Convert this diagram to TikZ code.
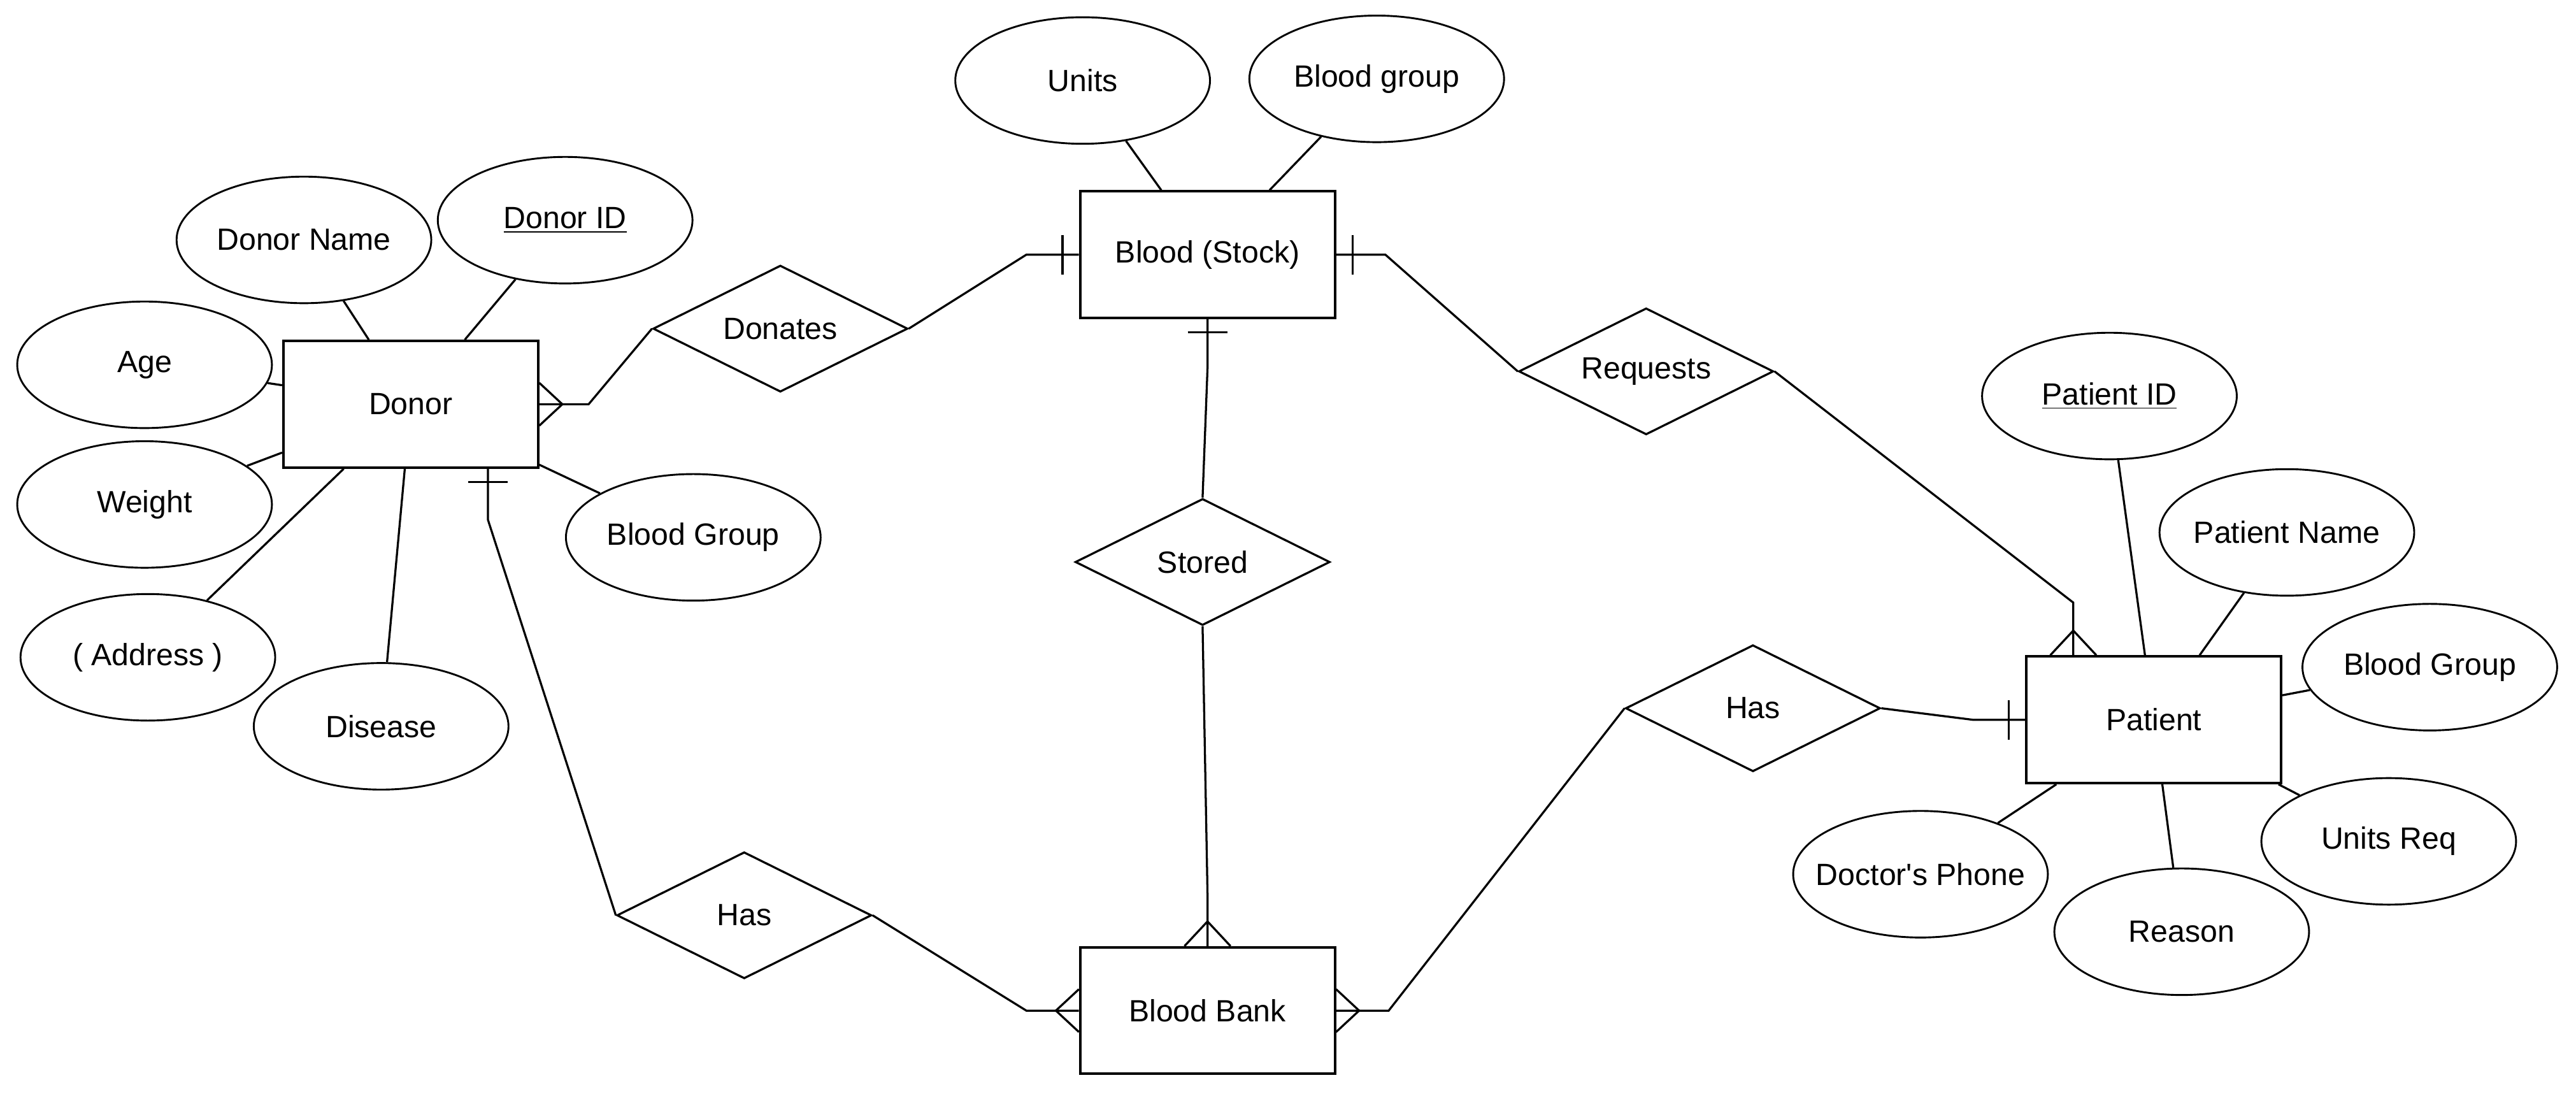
\documentclass[tikz,border=0pt]{standalone}
\usepackage{fontspec}
\setmainfont{Liberation Sans}
\usepackage{tikz}
\usetikzlibrary{calc,shapes.geometric}
\tikzstyle{entity}=[draw,line width=1.1pt,minimum width=3.875cm,minimum height=1.925cm,inner sep=0pt]
\tikzstyle{relation}=[draw,diamond,aspect=2,line width=0.9pt,minimum width=3.875cm,minimum height=1.925cm,inner sep=0pt]
\tikzstyle{attr}=[draw,ellipse,line width=0.8pt,minimum width=3.875cm,minimum height=1.925cm,inner xsep=-0.3cm,inner ysep=0pt]
\tikzstyle{link}=[line width=0.9pt]

\begin{document}
\begin{tikzpicture}[x=0.025cm,y=-0.025cm,line join=miter,font=\fontsize{13.3}{16}\selectfont]
  \fill[white] (0,0) rectangle (1568,665.4);
  \useasboundingbox (0,0) rectangle (1568,665.4);

  % entities
  \node[entity] (donor)   at (250,246) {Donor};
  \node[entity] (blood)   at (735,155) {Blood (Stock)};
  \node[entity] (patient) at (1311,438) {Patient};
  \node[entity] (bank)    at (735,615) {Blood Bank};

  % relationships
  \node[relation] (donates)  at (475,200) {Donates};
  \node[relation] (requests) at (1002,226) {Requests};
  \node[relation] (stored)   at (732,342) {Stored};
  \node[relation] (hasP)     at (1067,431) {Has};
  \node[relation] (hasD)     at (453,557) {Has};

  % donor attributes
  \node[attr] (dname)   at (185,146) {Donor Name};
  \node[attr] (did)     at (344,134) {\underline{Donor ID}};
  \node[attr] (age)     at (88,222)  {Age};
  \node[attr] (weight)  at (88,307)  {Weight};
  \node[attr] (address) at (90,400)  {( Address )};
  \node[attr] (disease) at (232,442) {Disease};
  \node[attr] (dgroup)  at (422,327) {Blood Group};
  \foreach \a in {dname,did,age,weight,address,disease,dgroup}
    \draw[link] (\a) -- (donor);

  % blood attributes
  \node[attr] (units)  at (659,49) {Units};
  \node[attr] (bgroup) at (838,48) {Blood group};
  \foreach \a in {units,bgroup}
    \draw[link] (\a) -- (blood);

  % patient attributes
  \node[attr] (pid)    at (1284,241) {\underline{Patient ID}};
  \node[attr] (pname)  at (1392,324) {Patient Name};
  \node[attr] (pgroup) at (1479,406) {Blood Group};
  \node[attr] (ureq)   at (1454,512) {Units Req};
  \node[attr] (reason) at (1328,567) {Reason};
  \node[attr] (phone)  at (1169,532) {Doctor\textquotesingle s Phone};
  \foreach \a in {pid,pname,pgroup,ureq,reason,phone}
    \draw[link] (\a) -- (patient);

  % anchor points on entity sides
  \coordinate (pN) at ($(patient.north)+(-49,0)$);
  \coordinate (dS) at ($(donor.south)+(47,0)$);

  % donor -- donates -- blood
  \draw[link] (donor.east) -- ++(30,0) -- (donates.west);
  \draw[link] ($(donor.east)+(0,-13)$) -- ($(donor.east)+(14,0)$) -- ($(donor.east)+(0,13)$);
  \draw[link] (donates.east) -- ($(blood.west)+(-32,0)$) -- (blood.west);
  \draw[link] ($(blood.west)+(-10,-12)$) -- ($(blood.west)+(-10,12)$);

  % blood -- requests -- patient
  \draw[link] (blood.east) -- ++(30,0) -- (requests.west);
  \draw[link] ($(blood.east)+(10,-12)$) -- ($(blood.east)+(10,12)$);
  \draw[link] (requests.east) -- ($(pN)+(0,-32)$) -- (pN);
  \draw[link] ($(pN)+(-14,0)$) -- ($(pN)+(0,-15)$) -- ($(pN)+(14,0)$);

  % blood -- stored -- bank
  \draw[link] (blood.south) -- ++(0,30) -- (stored.north);
  \draw[link] ($(blood.south)+(-12,8)$) -- ($(blood.south)+(12,8)$);
  \draw[link] (stored.south) -- ($(bank.north)+(0,-32)$) -- (bank.north);
  \draw[link] ($(bank.north)+(-14,0)$) -- ($(bank.north)+(0,-15)$) -- ($(bank.north)+(14,0)$);

  % patient -- has -- bank
  \draw[link] (hasP.east) -- ($(patient.west)+(-32,0)$) -- (patient.west);
  \draw[link] ($(patient.west)+(-10,-12)$) -- ($(patient.west)+(-10,12)$);
  \draw[link] (hasP.west) -- ($(bank.east)+(32,0)$) -- (bank.east);
  \draw[link] ($(bank.east)+(0,-13)$) -- ($(bank.east)+(14,0)$) -- ($(bank.east)+(0,13)$);

  % donor -- has -- bank
  \draw[link] (hasD.east) -- ($(bank.west)+(-32,0)$) -- (bank.west);
  \draw[link] ($(bank.west)+(0,-13)$) -- ($(bank.west)+(-14,0)$) -- ($(bank.west)+(0,13)$);
  \draw[link] (hasD.west) -- ($(dS)+(0,31)$) -- (dS);
  \draw[link] ($(dS)+(-12,8)$) -- ($(dS)+(12,8)$);
\end{tikzpicture}
\end{document}
